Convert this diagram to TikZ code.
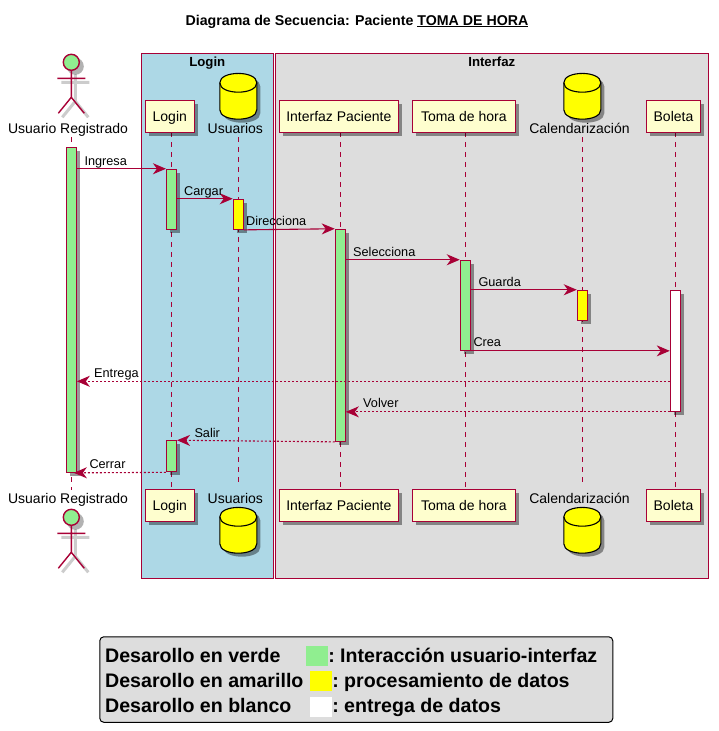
\documentclass[tikz,border=0pt]{standalone}
\usepackage{fontspec}
\setmainfont{Liberation Sans}
\usetikzlibrary{shadows,arrows.meta,calc}
\definecolor{puml}{HTML}{A80036}
\definecolor{boxfill}{HTML}{FEFECE}
\definecolor{grn}{HTML}{90EE90}
\definecolor{ylw}{HTML}{FFFF00}
\definecolor{lblue}{HTML}{ADD8E6}
\definecolor{lgray}{HTML}{DDDDDD}
\tikzset{
  softshadow/.style={general shadow={shadow xshift=3.5pt,shadow yshift=-3.5pt,fill=black,opacity=.4}},
  grp/.style={draw=puml,line width=1.1pt,inner sep=0pt,anchor=north west},
  grptitle/.style={font=\fontsize{13.2}{15}\selectfont\bfseries,inner sep=0pt,text height=10pt,text depth=3pt},
  part/.style={draw=puml,fill=boxfill,line width=1.4pt,softshadow,font=\fontsize{14}{16}\selectfont,inner sep=0pt,minimum height=32pt,anchor=center,text height=13pt,text depth=2pt},
  lbl/.style={font=\fontsize{14}{16}\selectfont,inner sep=0pt,text height=13pt,text depth=2pt},
  msglbl/.style={font=\fontsize{12.7}{14}\selectfont,inner sep=0pt,anchor=west,text height=10pt,text depth=3pt},
  lifeline/.style={draw=puml,line width=1.1pt,dash pattern=on 5pt off 5pt},
  actbar/.style={draw=puml,line width=1.1pt,softshadow,inner sep=0pt,minimum width=10pt},
  msg/.style={draw=puml,line width=1.1pt,-{Stealth[length=13pt,width=11pt,inset=4pt]}},
  ret/.style={draw=puml,line width=1.1pt,dash pattern=on 2pt off 2pt,-{Stealth[length=13pt,width=11pt,inset=4pt]}},
  legtxt/.style={font=\fontsize{19.6}{22}\selectfont\bfseries,inner sep=0pt,anchor=west,text height=14pt,text depth=4pt},
  swatch/.style={inner sep=0pt,minimum width=22pt,minimum height=20pt},
  actorline/.style={draw=puml,line width=1.4pt},
  actorshadow/.style={draw=black,draw opacity=.2,line width=3pt},
  dbbody/.style={draw=black,fill=ylw,line width=1.1pt},
}
\newcommand{\actorfig}[2]{%
  \begin{scope}[shift={(#1,#2)}]
    \draw[actorshadow] (4,12) -- (4,39) (-10,20) -- (18,20) (-9,55) -- (4,39) -- (17,55);
    \fill[black,opacity=.3] (4,4) circle[radius=8.5];
    \draw[actorline,fill=grn] (0,0) circle[radius=8];
    \draw[actorline] (0,8) -- (0,35) (-14,16) -- (14,16) (-13,51) -- (0,35) -- (13,51);
  \end{scope}}
\newcommand{\dbfig}[2]{%
  \begin{scope}[shift={(#1,#2)}]
    \fill[black,opacity=.4,shift={(3.5,3.5)}] (-18.5,9.5) .. controls (-18.5,-3) and (18.5,-3) .. (18.5,9.5) -- (18.5,36.5) .. controls (18.5,49) and (-18.5,49) .. (-18.5,36.5) -- cycle;
    \draw[dbbody] (-18.5,9.5) .. controls (-18.5,-3) and (18.5,-3) .. (18.5,9.5) -- (18.5,36.5) .. controls (18.5,49) and (-18.5,49) .. (-18.5,36.5) -- cycle;
    \draw[draw=black,line width=1.1pt] (-18.5,9.5) .. controls (-18.5,22) and (18.5,22) .. (18.5,9.5);
  \end{scope}}
\begin{document}
\begin{tikzpicture}[x=1pt,y=-1pt]
\useasboundingbox (0,0) rectangle (718,731);
\fill[white] (0,0) rectangle (718,731);

\node[inner sep=0pt,font=\fontsize{14.2}{16}\selectfont\bfseries,text height=11pt,text depth=3pt] (title) at (357,21) {Diagrama de Secuencia: Paciente \underline{TOMA DE HORA}};

% groups
\node[grp,fill=lblue,minimum width=132pt,minimum height=525pt] (gLogin) at (141.3,53.3) {};
\node[grp,fill=lgray,minimum width=433pt,minimum height=525pt] (gInterfaz) at (275.3,53.3) {};
\node[grptitle] (tLogin) at (207.3,63.2) {Login};
\node[grptitle] (tInterfaz) at (491.8,63.2) {Interfaz};

% lifeline ends
\coordinate (xA) at (71.3,0);
\coordinate (xL) at (171.5,0);
\coordinate (xU) at (238.3,0);
\coordinate (xI) at (340.3,0);
\coordinate (xT) at (465.3,0);
\coordinate (xC) at (582.3,0);
\coordinate (xB) at (675.3,0);

\draw[lifeline] (xA |- 0,137) -- (xA |- 0,490);
\draw[lifeline] (xL |- 0,132) -- (xL |- 0,489);
\draw[lifeline] (xU |- 0,137) -- (xU |- 0,486);
\draw[lifeline] (xI |- 0,132) -- (xI |- 0,489);
\draw[lifeline] (xT |- 0,132) -- (xT |- 0,489);
\draw[lifeline] (xC |- 0,137) -- (xC |- 0,486);
\draw[lifeline] (xB |- 0,132) -- (xB |- 0,489);

% actors
\actorfig{71.3}{62.3}
\actorfig{71.3}{517.3}
\node[lbl] (aT) at (68,128) {Usuario Registrado};
\node[lbl] (aB) at (68,498) {Usuario Registrado};

% participants
\node[part,minimum width=49pt] (loginT) at (169.8,116.3) {Login};
\node[part,minimum width=49pt] (loginB) at (169.8,505.3) {Login};
\node[part,minimum width=119pt] (intT) at (338.8,116.3) {Interfaz Paciente};
\node[part,minimum width=119pt] (intB) at (338.8,505.3) {Interfaz Paciente};
\node[part,minimum width=103pt] (tomaT) at (463.8,116.3) {Toma de hora};
\node[part,minimum width=103pt] (tomaB) at (463.8,505.3) {Toma de hora};
\node[part,minimum width=54pt] (bolT) at (673.5,116.3) {Boleta};
\node[part,minimum width=54pt] (bolB) at (673.5,505.3) {Boleta};

% databases
\dbfig{238.3}{73.3}
\dbfig{238.3}{507.3}
\node[lbl] (uT) at (235.3,128) {Usuarios};
\node[lbl] (uB) at (235.3,498) {Usuarios};
\dbfig{582.3}{73.3}
\dbfig{582.3}{507.3}
\node[lbl] (cT) at (579.5,128) {Calendarización};
\node[lbl] (cB) at (579.5,498) {Calendarización};

% activation bars
\node[actbar,fill=grn,minimum height=325pt] (bA) at (71.3,309.8) {};
\node[actbar,fill=grn,minimum height=60pt] (bL1) at (171.5,199.3) {};
\node[actbar,fill=ylw,minimum height=30pt] (bU) at (238.3,214.3) {};
\node[actbar,fill=grn,minimum height=212pt] (bI) at (340.3,335.3) {};
\node[actbar,fill=grn,minimum height=90pt] (bT) at (465.3,305.3) {};
\node[actbar,fill=ylw,minimum height=30pt] (bC) at (582.3,305.3) {};
\node[actbar,fill=white,minimum height=121pt] (bB) at (675.3,350.8) {};
\node[actbar,fill=grn,minimum height=31pt] (bL2) at (171.5,456.3) {};

% message y positions
\coordinate (yEnt) at (0,381.3);

% messages
\draw[msg] (bA.east |- bL1.north) -- (bL1.north west);
\draw[msg] (bL1.east |- bU.north) -- (bU.north west);
\draw[msg] (bU.south east) -- (bI.north west);
\draw[msg] (bI.east |- bT.north) -- (bT.north west);
\draw[msg] (bT.east |- bC.north) -- (bC.north west);
\draw[msg] (bT.south east) -- (bB.west |- bT.south);
\draw[ret] (bB.west |- yEnt) -- (bA.east |- yEnt);
\draw[ret] (bB.south west) -- (bI.east |- bB.south);
\draw[ret] (bI.south west) -- (bL2.north east);
\draw[ret] (bL2.south west) -- ([xshift=-3pt]bA.south east);

\node[msglbl] (mIng) at (84.3,161.5) {Ingresa};
\node[msglbl] (mCar) at (184,191.5) {Cargar};
\node[msglbl] (mDir) at (246,221.5) {Direcciona};
\node[msglbl] (mSel) at (353,252.5) {Selecciona};
\node[msglbl] (mGua) at (478.3,282.5) {Guarda};
\node[msglbl] (mCre) at (473.3,342.5) {Crea};
\node[msglbl] (mEnt) at (94,373.5) {Entrega};
\node[msglbl] (mVol) at (363,403.5) {Volver};
\node[msglbl] (mSal) at (194.3,433.5) {Salir};
\node[msglbl] (mCer) at (89.3,464.5) {Cerrar};

% legend
\node[draw=black,fill=lgray,line width=1pt,rounded corners=4pt,anchor=north west,inner sep=0pt,minimum width=513pt,minimum height=85.5pt] (leg) at (99.3,636.3) {};
\node[legtxt] (l1a) at (105,657.4) {Desarollo en verde};
\node[legtxt] (l2a) at (105,682.4) {Desarollo en amarillo};
\node[legtxt] (l3a) at (105,707.4) {Desarollo en blanco};
\node[swatch,fill=grn] (s1) at (317,655.7) {};
\node[swatch,fill=ylw] (s2) at (321,681) {};
\node[swatch,fill=white] (s3) at (321,706.7) {};
\node[legtxt] (l1b) at (s1.east |- l1a) {:\hspace{-2pt} Interacción usuario-interfaz};
\node[legtxt] (l2b) at (s2.east |- l2a) {:\hspace{-2pt} procesamiento de datos};
\node[legtxt] (l3b) at (s3.east |- l3a) {:\hspace{-2pt} entrega de datos};
\end{tikzpicture}
\end{document}
